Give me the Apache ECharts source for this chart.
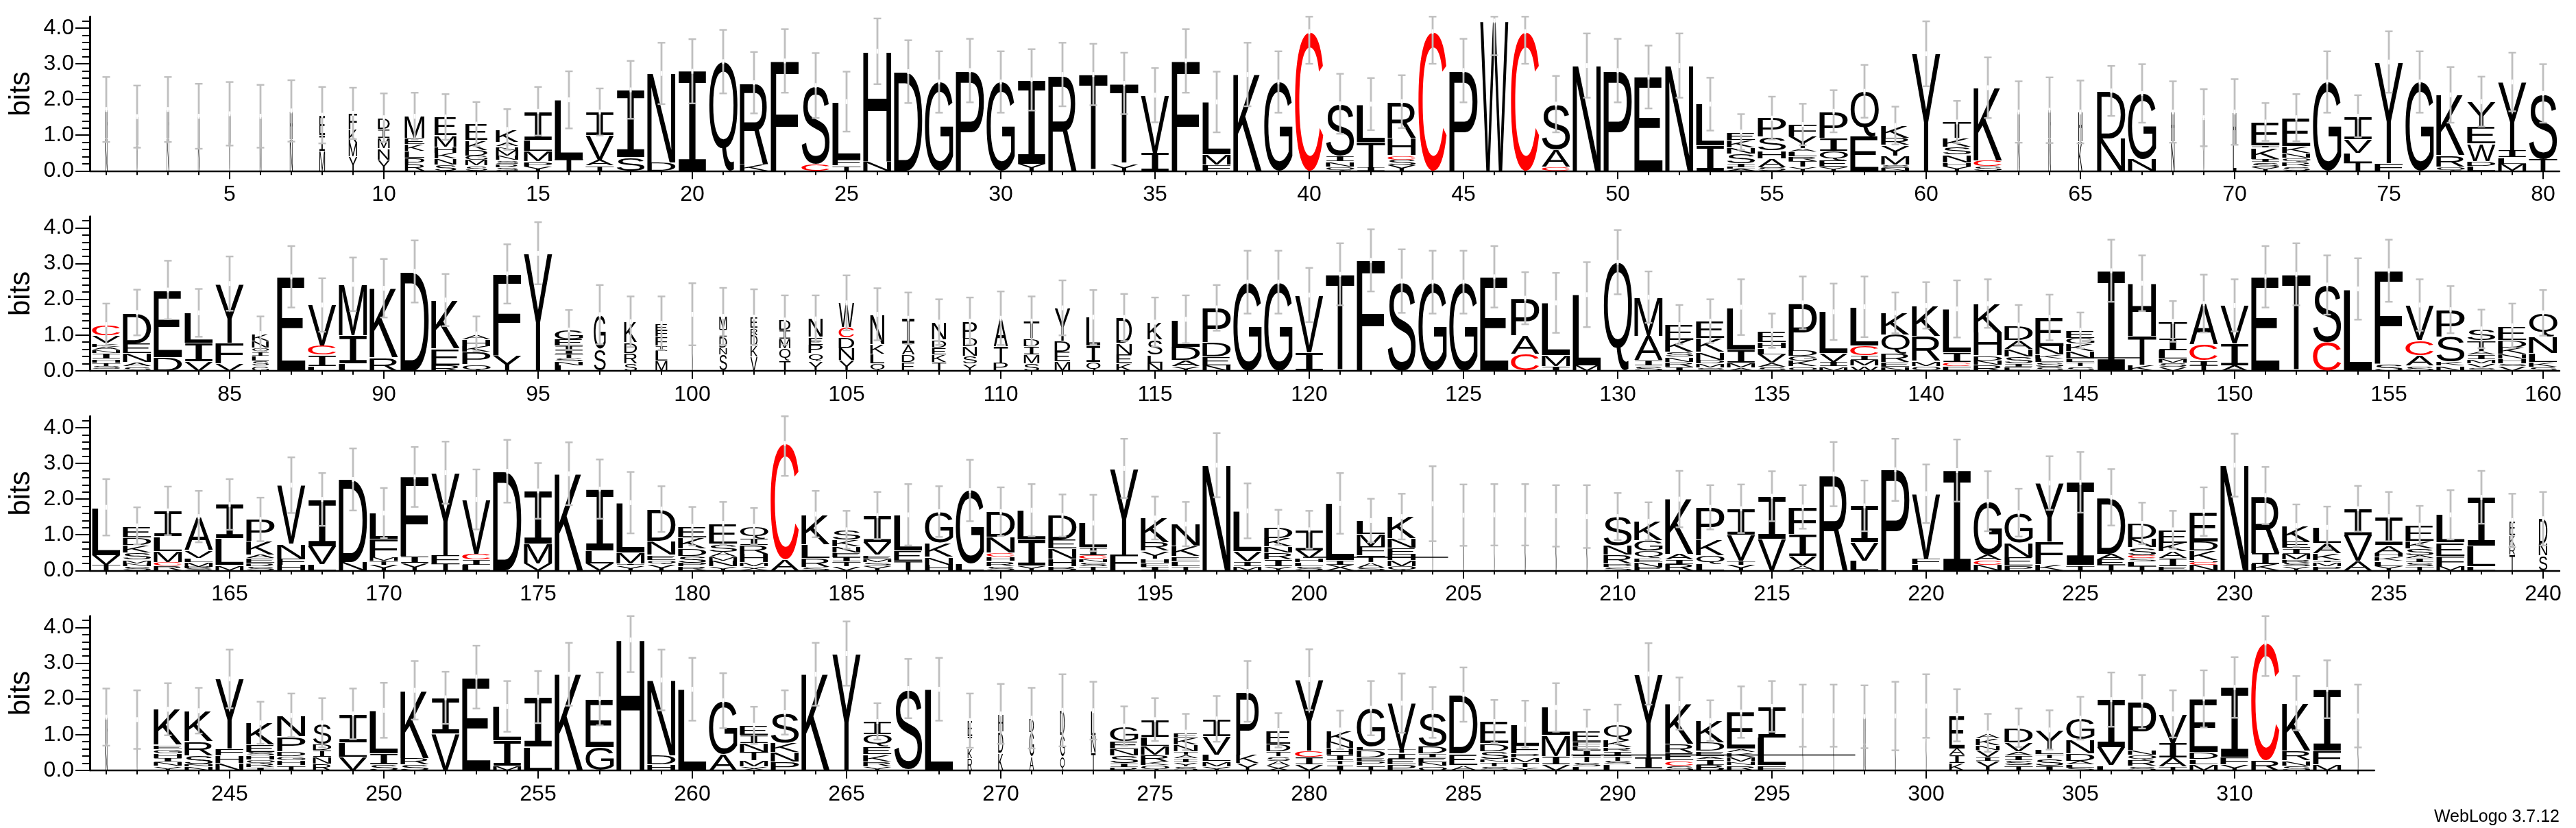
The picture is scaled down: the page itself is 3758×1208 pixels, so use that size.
<!DOCTYPE html>
<html><head><meta charset="utf-8">
<style>html,body{margin:0;padding:0;background:#fff}#c{width:3758px;height:1208px}</style>
<script src="https://cdn.jsdelivr.net/npm/echarts@6/dist/echarts.min.js"></script>
</head><body><div id="c"></div>
<script>
// Letter stacks, bottom to top: letter + relative height in bits. Position = index + 1.
const stacks = [
"N.9 H.8","V.7 H.8","N.9 H.8","N.8 H.7","V.8 H.8","N.8 H.7","N.9 H.8","M.56 I.45 E.55","Y.4 M.4 K.38 F.43","Y.29 N.29 M.26 I.22 D.29",
"R.18 P.18 L.19 K.19 E.17 M.6","S.17 N.17 K.17 H.17 M.32 E.5","S.15 M.15 G.13 D.15 K.27 E.44","S.1 R.1 S.1 N.13 M.15 N.1 A.12 K.34","Y.13 P.15 M.29 L.3 I.8","T.33 L1.66","T.15 A.17 V.68 I.65","S.38 I1.88","D.23 N2.5","I2.79",
"Q3.06","K.19 R2.28","F3.08","C.2 S2.19","T.15 F.17 L1.62","N.27 H3.08","D2.78","G2.49","P2.81","G2.49",
"Y.2 I2.33","R2.7","T2.7","Y.2 T2.25","I.5 V1.6","F3.08","F.17 M.29 L1.45","K2.7","G2.49","C3.9",
"Q.12 N.15 I.15 S1.45","I.1 T.72 L1.05","Y.15 S.15 C.12 H.45 R.95","C3.9","P2.81","W4.2","C3.9","C.12 A.47 S1.25","N2.95","P2.81",
"E2.63","N2.95","I.7 L1.15","A.05 L.05 I.1 S.25 N.15 K.2 E.2","S.1 A.22 H.2 S.34 P.47","Y.1 T.15 R.12 L.13 A.08 Y.3 F.3","Y.12 E.17 Q.25 I.35 P.7","E.93 Q1.22","N.08 S.1 M.24 Y.29 R.2 K.33","Y3.28",
"Y.12 H.1 N.2 S.2 K.22 T.42","S.13 C.15 K1.9","N.8 H.8","N.9 H.8","K.8 H.8","N.9 D1.3","N.33 G1.82","N.8 H.8","V.7 H.8","L.7 H.9",
"Y.1 S.13 I.08 K.29 I.06 E.6","S.12 R.11 Q.1 N.13 K.18 E.72","G2.49","T.22 L.25 V.37 I.6","F.22 Y2.8","G2.49","Q.12 R.32 K1.65","L.12 D.13 W.45 E.45 Y.62","M.2 L.17 I.2 Y1.85","T.33 S1.82",
"V.05 S.08 T.1 H.1 I.15 N.1 A.08 K.1 V.2 C.3","S.12 A.12 N.24 E.28 D.85","D.38 E1.85","V.25 I.5 L.82","V.2 F.57 Y1.6","G.12 S.12 L.12 I.1 Q.1 N.16 K.17","E2.63","L.13 I.3 C.25 V1.1","L.2 I.78 M1.4","R.37 K1.93",
"D2.78","R.15 E.45 K1.3","Q.18 P.32 K.16 H.18 A.14","Y.42 F2.25","Y3.29","L.15 N.1 S.1 T.1 I.1 C.02 I.1 E.17 G.25","S.6 G.93","S.2 R.28 D.28 K.55","M.25 L.25 I.14 F.22 F.16 E.18","N.8 H.8",
"S.45 N.2 D.3 I.22 M.35","V.4 K.3 D.3 R.2 E.3","T.25 Q.28 M.22 I.2 D.23","Y.24 Q.2 P.22 E.2 N.45","Y.28 N.3 D.28 C.26 W.62","Q.2 L.26 K.25 N.8","E.22 D.2 A.23 T.05 I.65","T.22 K.2 E.18 D.2 N.45","Y.18 S.2 N.24 D.22 P.42","P.22 T.45 A.75",
"S.2 M.22 I.22 D.21 T.45","M.25 E.27 D.3 Y.9","Q.22 I.42 L.73","K.2 E.24 N.3 D.67","N.22 L.2 S.4 K.45","Y.12 A.15 D.35 L.7","N.15 E.22 D.4 P.9","G2.48","G2.48","I.5 V1.55",
"T2.7","F3.09","S2.51","G2.48","G2.48","E2.63","C.46 A.5 P1","I.12 M.3 L1.38","M.15 L1.95","Q3.04",
"S.15 I.15 A.65 M1.05","I.1 R.12 N.14 S.13 K.3 E.4","S.08 M.1 D.1 N.2 K.35 E.43","A.1 M.13 I.37 L1.18","S.1 A.1 V.2 L.15 H.15 E.28","Q.12 K.15 G.13 D.15 P1.25","M.12 I.12 V.22 L1.1","W.13 M.15 I.12 C.25 L1","N.1 E.12 R.22 Q.5 K.55","Q.13 M.15 R.7 K.85",
"F.12 C.1 I.25 L1.1","R.15 N.12 D.13 H.6 K.75","E.1 I.08 S.18 N.18 A.22 D.37","S.1 S.13 L.1 K.1 N.22 E.75","S.1 T.1 L.08 N.17 K.18 G.13 E.17","I2.8","K.15 T.8 H1.45","V.1 S.1 M.1 L.2 I.3 T.42","T.15 I.13 C.42 A1.07","A.15 I.6 V1.05",
"E2.63","T2.7","C.78 S1.58","L2.29","S.2 F2.6","S.14 A.28 C.4 V.95","N.14 K.1 S.65 P.7","S.08 V.09 M.1 I.12 A.08 T.25 S.27","V.12 S.06 H.12 N.12 K.16 D.18 E.35","S.1 K.12 L.22 N.42 Q.6",
"T.15 V.27 L1.28","S.1 N.08 M.09 S.18 K.18 D.2 E.28","R.12 C.1 M.28 L.38 I.65","S.05 R.05 M.12 L.1 V.2 A.85","M.15 L.75 I.95","S.12 R.08 E.12 A.1 K.35 P.55","H.15 F.17 N.4 V1.55","L.17 V.5 I1.27","N.23 D2.3","Y.15 T.1 M.1 F.48 L.67",
"Y.2 I.17 F2.15","T.2 F.22 Y2.25","L.15 I.14 C.15 V1.45","D2.78","V.2 M.55 I1.45","K2.71","V.2 L.35 I1.7","Y.15 I.05 M.3 L1.4","Y.17 Q.12 E.14 N.38 D.85","R.1 P.1 S.17 D.18 K.28 E.28",
"Y.1 N.14 M.11 A.12 S.2 E.5","X.1 M.1 H.2 R.22 I.16 Q.3","A.3 C3.22","S.1 R.25 L.4 K.85","V.1 T.12 I.12 E.12 N.15 K.16 S.25","Y.14 S.1 M.1 E.1 V.35 I.75","T.27 E.29 L1","H.16 N.22 K.38 G.85","L.18 G2.05","S.12 R.13 H.1 C.12 N.4 D.65",
"Y.14 I.7 L.8","B.1 H.2 N.25 E.23 D.6","T.11 S.1 N.09 C.1 I.2 L.62","F.45 Y2.4","I.1 F.1 H.1 Y.2 R.22 K.6","T.12 L.14 E.15 K.28 N.6","N2.95","M.12 I.13 V.27 L1.07","Y.1 I.17 R.18 N.15 K.2 D.27","S.1 L.1 H.1 V.2 I.5",
"X.15 I.13 L1.5","S.08 A.12 T.17 F.22 M.3 L.33","Q.12 M.15 H.15 E.17 N.25 K.55","N.9 H.9","N.8 H.8","N.8 H.8","N.8 H.8","N.8 H.8","N.8 H.8","S.1 P.1 R.25 N.25 S.8",
"P.1 N.12 E.1 Q.2 G.28 K.5","R.17 I.12 A.15 K1.45","L.17 Q.23 K.42 P.85","Y.15 T.12 V.7 I.7","V.87 I1.17","A.13 V.25 I.55 F.7","R2.7","L.27 V.5 I1","P2.82","L.17 F.15 V1.8",
"I2.8","N.15 C.13 A.15 G1.42","P.13 E.23 N.4 G.8","K.17 F.63 Y1.62","T.15 I2.3","T.15 E.15 A.15 D1.5","T.12 L.12 S.08 C.08 S.2 N.22 D.4","E.1 I.2 A.17 K.2 E.32","N.15 C.08 H.05 K.25 D.25 E.8","N2.95",
"K.17 I.3 R1.55","Y.1 S.1 R.08 M.15 I.14 E.17 K.4","P.1 M.1 I.06 K.17 A.25 L.38","A.25 V.68 I.7","Y.12 L.14 K.1 H.1 A.2 I.75","T.1 S.1 I.1 A.07 S.17 K.18 E.38","M.12 F.27 E.35 L.73","L.12 L.55 I1.3","T.45 R.25 K.28 E.42","S.42 N.33 D.7",
"N.8 H.8","V.7 H.8","Y.12 N.12 I.1 H.13 G.12 E.12 K.98","N.11 N.06 S.25 R.4 K.85","N.2 H.2 F.18 Y1.88","I.08 R.1 Q.1 H.1 S.1 E.2 K.55","T.14 H.13 G.1 D.14 P.4 N.55","R.18 N.18 I.18 D.15 S.55","V.38 L.4 I.8","S.16 I.3 L1.17",
"S.16 R.18 K1.85","V1.03 I1","E2.61","M.14 I.7 L.95","L.65 I1.35","K2.69","G.65 E1.35","H3.65","H.17 D.25 N2.1","L2.27",
"A.46 G1.49","X.1 M.14 T.2 N.2 I.2 E.22","P.24 N.27 K.26 S.85","K2.69","Y3.27","Y.1 R.13 K.18 E.2 Q.3 I.33","L.05 S2.2","L2.27","R.4 K.3 I.4 E.5","K.5 D.6 H.5",
"A.4 G.7 D.4","Q.4 G.6 D.7","T.5 N.5 L.7","R.08 I.1 S.2 N.17 E.2 G.38","Q.13 K.1 R.18 M.23 L.22 I.45","S.1 Y.1 I.1 A.08 T.08 N.17 K.17 E.13","Y.11 M.13 L.17 V.48 I.45","Y.2 K.23 P1.72","X.1 A.1 S.1 T.1 D.17 E.28","V.17 I.2 C.17 Y1.98",
"I.14 T.1 I.13 H.16 N.15 K.27","T.14 P.12 E.1 D.2 L.1 G1.05","P.16 E.15 I.16 T.1 V1.23","O.12 N.1 E.13 I.1 D.2 S.9","A.14 E.3 D1.55","S.1 T.1 N.08 S.2 D.2 E.55","Y.08 T.12 M.12 P.1 F.2 L.5","V.16 I.22 M.55 L.72","L.1 S.1 T.15 I.15 E.1 F.1 E.28","L.15 S.1 T.12 I.12 R.1 K.2 Q.4",
"L.05 I.3 Y2.25","S.13 C.14 E.2 R.23 K1.07","B.14 I.15 A.07 E.13 D.21 K.55","R.14 N.1 M.14 K.12 A.1 E1","F.14 L.75 I.85","N.8 H.8","N.8 H.8","N.8 H.8","N.8 H.8","N.9 H.9",
"K.2 I.2 A.17 E.85","Y.25 I.1 V.17 N.14 K.17 A.14","T.12 S.12 I.12 A.1 V.2 D.35","I.1 S.16 T.1 L.1 Y.42","S.08 L.08 A.1 D.2 N.38 G.58","L.14 V.48 I1.28","S.12 R.16 Q.13 N.13 P1.25","T.1 A.23 I.37 V.74","M.17 L.14 D.18 E1.45","Y.17 F.2 I1.9",
"R.28 C3.25","S.13 N.14 R.25 K1.23","M.16 F.37 I1.67","N.8 H.8"
];
// Height of each stack, in bits.
const totals = [
1.72,1.52,1.72,1.53,1.6,1.53,1.68,1.56,1.61,1.49,1.53,1.51,1.31,1.16,1.67,1.99,1.65,2.27,2.73,2.79,
3.06,2.47,3.08,2.39,1.94,3.35,2.78,2.49,2.81,2.49,2.55,2.7,2.7,2.45,2.12,3.08,1.93,2.7,2.49,3.9,
1.88,1.87,1.94,3.9,2.81,4.2,3.9,1.87,2.95,2.81,2.63,2.95,1.87,1.09,1.48,1.3,1.67,2.23,1.27,3.28,
1.37,2.33,1.65,1.7,1.65,2.24,2.17,1.65,1.49,1.65,1.37,1.49,2.49,1.53,3.05,2.49,2.13,1.94,2.49,2.17,
1.29,1.63,2.26,1.62,2.44,1.04,2.63,1.84,2.42,2.31,2.78,1.98,1.03,2.71,3.29,1.14,1.57,1.37,1.33,1.58,
1.52,1.5,1.42,1.45,1.9,1.58,1.47,1.36,1.39,1.47,1.39,1.76,1.5,1.49,1.36,1.44,1.76,2.48,2.48,2.12,
2.7,3.09,2.51,2.48,2.48,2.63,2.03,1.9,2.13,3.04,2.06,1.29,1.39,1.78,1.12,1.9,1.65,1.79,1.62,1.83,
1.73,1.88,1.28,1.49,1.13,2.8,2.45,1.38,1.88,1.83,2.63,2.7,2.4,2.29,2.8,1.84,1.71,1.17,1.26,1.62,
1.77,1.25,1.67,1.51,1.85,1.43,2.39,1.99,2.55,1.61,2.62,2.74,1.99,2.78,2.23,2.71,2.28,1.9,1.72,1.24,
1.32,1.24,3.56,1.58,1.14,1.54,1.56,1.65,2.24,1.65,1.69,1.54,1.33,2.86,1.47,1.3,2.95,1.67,1.21,1.14,
1.88,1.4,1.51,1.87,1.55,1.56,1.56,1.53,1.51,1.51,1.38,2,1.77,1.73,2.08,1.78,2.7,1.81,2.82,2.15,
2.8,1.94,1.62,2.45,2.47,2.05,1.32,1.14,1.65,2.95,2.1,1.26,1.21,1.73,1.51,1.27,1.56,2.05,1.4,1.45,
1.49,1.42,1.71,1.67,2.56,1.33,1.54,1.33,1.58,1.68,2.24,2.03,2.61,1.79,2.05,2.69,2,3.65,2.53,2.27,
1.95,1.26,1.62,2.69,3.27,1.37,2.29,2.27,1.39,1.58,1.46,1.68,1.67,1.24,1.42,1.07,1.44,2.21,1.12,2.54,
1.13,1.74,1.88,1.62,2.12,1.37,1.29,1.76,1.13,1.29,2.7,1.87,1.39,1.63,1.79,1.53,1.53,1.5,1.52,1.8,
1.54,1.05,1.19,1.13,1.46,1.98,1.92,1.58,2,2.32,3.57,1.88,2.27,1.52
];
// Upper end of each error bar, in bits (the axis clips those beyond its top).
const errTops = [
2.63,2.39,2.63,2.44,2.49,2.41,2.54,2.35,2.33,2.17,2.19,2.15,1.93,1.73,2.35,2.79,2.31,3.08,3.59,3.69,
3.95,3.33,3.97,3.3,2.78,4.27,3.66,3.35,3.7,3.35,3.41,3.59,3.56,3.31,2.88,3.97,2.78,3.59,3.35,4.8,
2.72,2.6,2.68,4.8,3.7,5.16,4.8,2.66,3.85,3.7,3.51,3.85,2.61,1.59,2.08,1.88,2.26,2.97,1.8,4.19,
1.96,3.18,2.51,2.62,2.53,2.94,2.99,2.51,2.29,2.57,1.9,2.15,3.35,2.12,3.91,3.35,2.91,2.64,3.31,2.99,
1.88,2.27,3.08,2.29,3.2,1.52,3.49,2.59,3.17,3.13,3.65,2.71,1.52,3.54,4.16,1.7,2.4,2.08,2.08,2.45,
2.32,2.28,2.11,2.11,2.67,2.31,2.19,2,2.05,2.22,2.08,2.53,2.26,2.15,2.05,2.11,2.4,3.36,3.36,2.88,
3.57,3.96,3.4,3.36,3.36,3.49,2.76,2.74,3.04,3.94,2.78,1.84,2,2.56,1.6,2.64,2.44,2.64,2.19,2.48,
2.53,2.56,1.84,2.13,1.63,3.67,3.23,1.95,2.69,2.56,3.49,3.57,3.23,3.15,3.67,2.56,2.37,1.71,1.88,2.26,
2.56,1.77,2.35,2.23,2.56,2.04,3.17,2.73,3.42,2.31,3.46,3.61,2.83,3.66,3.01,3.59,3.11,2.76,2.36,1.78,
1.92,1.75,4.47,2.23,1.67,2.2,2.42,2.36,3.1,2.33,2.42,2.13,2.12,3.69,2.07,1.92,3.85,2.44,1.7,1.67,
2.73,2.01,2.15,2.92,2.41,2.42,2.42,2.39,2.39,2.17,1.91,2.79,2.39,2.41,2.78,2.39,3.6,2.52,3.69,2.97,
3.67,2.78,2.29,3.2,3.32,2.84,1.9,1.67,2.33,3.83,2.9,1.85,1.79,2.37,2.2,1.81,2.25,2.79,2.15,2.2,
2.29,2.24,2.44,2.31,3.38,1.92,2.15,2.02,2.29,2.45,3.06,2.76,3.49,2.5,2.78,3.57,2.74,4.55,3.38,3.15,
2.72,1.78,2.24,3.57,4.17,1.88,3.12,3.15,2.15,2.42,2.31,2.69,2.48,1.79,2.02,1.58,2.08,3.06,1.6,3.39,
1.67,2.5,2.71,2.33,2.88,1.97,1.95,2.44,1.7,1.84,3.56,2.6,1.96,2.35,2.5,2.4,2.4,2.38,2.48,2.69,
2.27,1.58,1.73,1.68,2.06,2.74,2.67,2.24,2.8,3.17,4.5,2.64,3.08,2.4
];
// Share of the full stack width used by each position (1 unless listed).
const narrow = {1:.08,2:.06,3:.08,4:.06,5:.06,6:.06,7:.1,8:.2,9:.3,10:.42,11:.7,12:.78,13:.78,14:.8,63:.07,64:.08,65:.14,68:.12,69:.06,70:.12,
86:.6,97:.42,98:.45,99:.42,100:.04,101:.27,102:.25,103:.4,104:.5,105:.55,106:.5,107:.45,108:.5,109:.5,110:.5,111:.55,112:.55,113:.5,114:.55,115:.53,
204:.03,205:.04,206:.03,207:.04,208:.04,209:.04,239:.2,240:.3,241:.08,242:.05,248:.65,269:.16,270:.18,271:.16,272:.16,273:.16,276:.85,278:.8,279:.85,281:.95,
296:.03,297:.03,298:.07,299:.04,300:.03,301:.55,302:.85,314:.03};
// Long hairline marks: [row, from position, to position, bits]
const hairlines = [[1,144.6,147,.36],[2,199.8,204.5,.37],[3,288.5,297.7,.43]];
const rowFirst = [1,81,161,241];
const rowLast  = [80,160,240,314];
const yMajor = [0,1,2,3,4];
const yMinor = [0,.2,.4,.6,.8,1,1.2,1.4,1.6,1.8,2,2.2,2.4,2.6,2.8,3,3.2,3.4,3.6,3.8,4,4.2];
const yTop = 4.32;

const SANS = 'Liberation Sans', MONO = 'Liberation Mono';
const mctx = document.createElement('canvas').getContext('2d');
const metricCache = {};
function glyphFont(ch){ return '100px "' + (ch === 'I' ? MONO : SANS) + '"'; }
function metrics(ch){
  if (!metricCache[ch]) {
    mctx.font = glyphFont(ch); mctx.textBaseline = 'middle'; mctx.textAlign = 'center';
    const m = mctx.measureText(ch);
    metricCache[ch] = {x1:-m.actualBoundingBoxLeft, x2:m.actualBoundingBoxRight, y1:-m.actualBoundingBoxAscent, y2:m.actualBoundingBoxDescent};
  }
  return metricCache[ch];
}
function parseStack(i){
  const toks = stacks[i].split(' ').map(t => [t[0], parseFloat(t.slice(1))]);
  const s = toks.reduce((a,t) => a + t[1], 0), k = totals[i] / s;
  return toks.map(t => [t[0], t[1]*k]);
}
function renderLogo(params, api){
  const pos = api.value(0), i = pos - 1;
  const step = api.size([1,0])[0];
  const cx = api.coord([pos,0])[0];
  const w = step * 0.92 * (narrow[pos] || 1);
  const children = [];
  let acc = 0;
  parseStack(i).forEach(([ch,h]) => {
    const bottom = api.coord([pos,acc])[1], top = api.coord([pos,acc+h])[1];
    acc += h;
    const m = metrics(ch), Y1 = bottom, Y0 = Math.min(top + 1, bottom - .5), X0 = cx - w/2, X1 = cx + w/2;
    const sx = (X1-X0)/(m.x2-m.x1), sy = (Y1-Y0)/(m.y2-m.y1);
    children.push({type:'text', silent:true, x:X0 - sx*m.x1, y:Y0 - sy*m.y1, scaleX:sx, scaleY:sy,
      style:{text:ch, font:glyphFont(ch), fill:ch==='C'?'#ff0000':'#000000', align:'center', verticalAlign:'middle', textAlign:'center', textVerticalAlign:'middle'}});
  });
  return {type:'group', children};
}
function renderErr(params, api){
  const pos = api.value(0), i = pos - 1, h = totals[i], up = errTops[i];
  const lo = Math.max(0, 2*h - up), hi = Math.min(yTop, up);
  const x = api.coord([pos,0])[0], yHi = api.coord([pos,hi])[1], yLo = api.coord([pos,lo])[1], yC = api.coord([pos,h])[1];
  const g = '#bfbfbf';
  return {type:'group', children:[
    {type:'rect', silent:true, shape:{x:x-1.4,y:yHi,width:2.8,height:yLo-yHi}, style:{fill:g}},
    {type:'rect', silent:true, shape:{x:x-5.5,y:yHi-1.2,width:11,height:2.4}, style:{fill:g}},
    {type:'rect', silent:true, shape:{x:x-5.5,y:yLo-1.2,width:11,height:2.4}, style:{fill:g}},
    {type:'rect', silent:true, shape:{x:x-1.4,y:yC-3.5,width:2.8,height:7}, style:{fill:'#ffffff'}}
  ]};
}
const baselines = [249.3,540.8,832.3,1123.8];
const PX = 45, LEFT = 131;
const grid=[], xAxis=[], yAxis=[], series=[];
const lbl = {fontFamily:SANS, fontSize:32, color:'#000'};
rowFirst.forEach((first,r) => {
  const last = rowLast[r];
  const gridW = (last - first) * PX + 24 + 24;
  grid.push({left:LEFT, width:gridW, top:baselines[r]-yTop*52.08, height:yTop*52.08, containLabel:false, outerBoundsMode:'none'});
  const xmin = first - 24/PX, xmax = last + 24/PX;
  const all=[], fives=[];
  for (let p=first;p<=last;p++){ all.push(p); if(p%5===0) fives.push(p); }
  const line = {show:true, onZero:false, lineStyle:{color:'#000', width:2.4}};
  xAxis.push({gridIndex:r, type:'value', position:'bottom', min:xmin, max:xmax, splitLine:{show:false}, axisLine:line,
    axisTick:{show:true, length:12, customValues:fives, lineStyle:{color:'#000',width:2}},
    axisLabel:{...lbl, show:true, margin:19, customValues:fives, formatter:v=>String(v)}});
  xAxis.push({gridIndex:r, type:'value', position:'bottom', min:xmin, max:xmax, splitLine:{show:false}, axisLine:{show:false},
    axisTick:{show:true, length:6, customValues:all, lineStyle:{color:'#000',width:2}}, axisLabel:{show:false}});
  yAxis.push({gridIndex:r, type:'value', position:'left', min:0, max:yTop, splitLine:{show:false}, axisLine:{show:true, onZero:false, lineStyle:{color:'#000', width:3}},
    axisTick:{show:true, length:21, customValues:yMajor, lineStyle:{color:'#000',width:2}},
    axisLabel:{...lbl, show:true, margin:23, customValues:yMajor, formatter:v=>v.toFixed(1)},
    name:'bits', nameLocation:'middle', nameRotate:90, nameGap:76, nameTextStyle:{fontFamily:SANS, fontSize:42, color:'#000'}});
  yAxis.push({gridIndex:r, type:'value', position:'left', min:0, max:yTop, splitLine:{show:false}, axisLine:{show:false},
    axisTick:{show:true, length:11, customValues:yMinor, lineStyle:{color:'#000',width:2}}, axisLabel:{show:false}});
  const data = all.map(p => [p, totals[p-1]]);
  series.push({type:'custom', xAxisIndex:2*r, yAxisIndex:2*r, data, renderItem:renderLogo, clip:false, z:2, animation:false, silent:true, encode:{x:0,y:1}});
  series.push({type:'custom', xAxisIndex:2*r, yAxisIndex:2*r, data, renderItem:renderErr, clip:false, z:3, animation:false, silent:true, encode:{x:0,y:1}});
});
hairlines.forEach(([r,a,b,v]) => series.push({type:'line', xAxisIndex:2*r, yAxisIndex:2*r, data:[[a,v],[b,v]], showSymbol:false, silent:true, animation:false, z:2, lineStyle:{color:'#000',width:1.5}}));

const chart = echarts.init(document.getElementById('c'), null, {renderer:'canvas', width:3758, height:1208});
chart.setOption({animation:false, backgroundColor:'#fff', grid, xAxis, yAxis, series,
  graphic:[{type:'text', right:24, top:1180, silent:true, style:{text:'WebLogo 3.7.12', font:'25px "Liberation Sans"', fill:'#000'}}]});
</script></body></html>
